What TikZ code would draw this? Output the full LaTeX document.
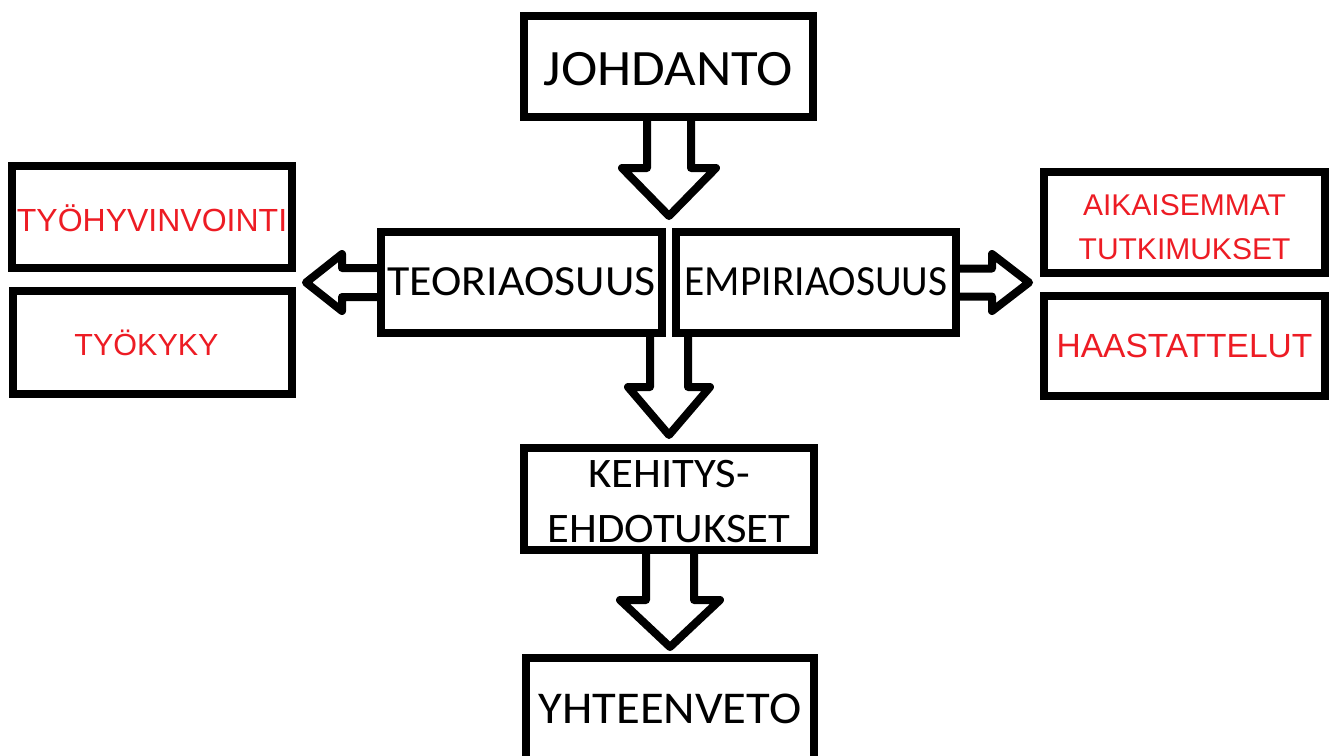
\documentclass[tikz,border=0pt]{standalone}
\usepackage{fontspec}
\usepackage{graphicx}
\usetikzlibrary{calc}
\newfontfamily\calib{Carlito}
\newfontfamily\arialf{Liberation Sans}
\definecolor{paintred}{RGB}{237,28,36}
% horizontal scaling of a label
\newcommand\hsx[2]{\scalebox{#1}[1]{#2}}
\tikzset{
  box/.style={draw=black, line width=8pt, inner sep=0pt, align=center, text depth=0pt},
  dark/.style n args={3}{font=\calib\fontsize{#1}{#2}\selectfont, text height=#3pt},
  redtext/.style n args={3}{text=paintred, font=\arialf\fontsize{#1}{#2}\selectfont, text height=#3pt},
  fat/.style={draw=black, line width=8pt, line join=round},
}
% hollow block arrows: from, to, shaft half width, head half width, head length, gap before target
\newcommand\fatdown[6]{%
  \draw[fat] let \p1=#1, \p2=#2 in
    (\x2-#3pt,\y1) -- (\x2-#3pt,\y2+#6pt+#5pt) -- (\x2-#4pt,\y2+#6pt+#5pt)
    -- (\x2,\y2+#6pt) -- (\x2+#4pt,\y2+#6pt+#5pt) -- (\x2+#3pt,\y2+#6pt+#5pt) -- (\x2+#3pt,\y1);}
\newcommand\fatleft[6]{%
  \draw[fat] let \p1=#1, \p2=#2 in
    (\x1,\y1+#3pt) -- (\x2+#6pt+#5pt,\y1+#3pt) -- (\x2+#6pt+#5pt,\y1+#4pt)
    -- (\x2+#6pt,\y1) -- (\x2+#6pt+#5pt,\y1-#4pt) -- (\x2+#6pt+#5pt,\y1-#3pt) -- (\x1,\y1-#3pt);}
\newcommand\fatright[6]{%
  \draw[fat] let \p1=#1, \p2=#2 in
    (\x1,\y1+#3pt) -- (\x2-#6pt-#5pt,\y1+#3pt) -- (\x2-#6pt-#5pt,\y1+#4pt)
    -- (\x2-#6pt,\y1) -- (\x2-#6pt-#5pt,\y1-#4pt) -- (\x2-#6pt-#5pt,\y1-#3pt) -- (\x1,\y1-#3pt);}
\begin{document}
\begin{tikzpicture}[x=1pt, y=-1pt]
\useasboundingbox[fill=white] (0,0) rectangle (1330,755);

% main chain
\node[box, dark={51}{60}{37}, minimum width=289pt, minimum height=101pt] (joh) at (668.5,66.5) {\hsx{1.074}{JOHDANTO}};
\node[box, dark={43}{52}{25}, minimum width=281pt, minimum height=101pt] (teo) at (521.5,282.5) {\hsx{1.065}{TEORIAOSUUS}};
\node[box, dark={43}{52}{25}, minimum width=280pt, minimum height=101pt] (emp) at (816,282.5) {\hsx{0.963}{EMPIRIAOSUUS}};
\node[box, dark={42}{55}{86}, minimum width=290pt, minimum height=102pt] (keh) at (669,499) {\hsx{1.065}{KEHITYS-}\\\hsx{1.062}{EHDOTUKSET}};
\node[box, dark={45.5}{53}{28}, minimum width=288pt, minimum height=102pt] (yht) at (670,709) {\hsx{1.07}{YHTEENVETO}};

% theory topics
\node[box, redtext={32}{38}{28}, minimum width=280pt, minimum height=102pt] (hyv) at (152,217) {TYÖHYVINVOINTI};
\node[box, redtext={30.5}{37}{25}, minimum width=279pt, minimum height=103pt] (kyk) at (152.5,342.5) {TYÖKYKY\hspace*{12pt}};

% empirical parts
\node[box, redtext={30}{44}{73}, minimum width=281pt, minimum height=101pt] (aik) at (1184.5,222.5) {AIKAISEMMAT\\TUTKIMUKSET};
\node[box, redtext={33.5}{39}{22}, minimum width=281pt, minimum height=100pt] (haa) at (1184.5,346) {HAASTATTELUT};

% block arrows
\fatdown{(joh.south)}{($(teo.north east)!.5!(emp.north west)$)}{22}{47}{48}{12}
\fatdown{($(teo.south east)!.5!(emp.south west)$)}{(keh.north)}{19}{41}{48}{9}
\fatdown{(keh.south)}{(yht.north)}{24}{50}{47}{7}
\fatleft{(teo.west)}{($(hyv.south east)!.5!(kyk.north east)$)}{14.5}{28.5}{36}{10}
\fatright{(emp.east)}{($(aik.south west)!.5!(haa.north west)$)}{14}{28.5}{37}{11}
\end{tikzpicture}
\end{document}
